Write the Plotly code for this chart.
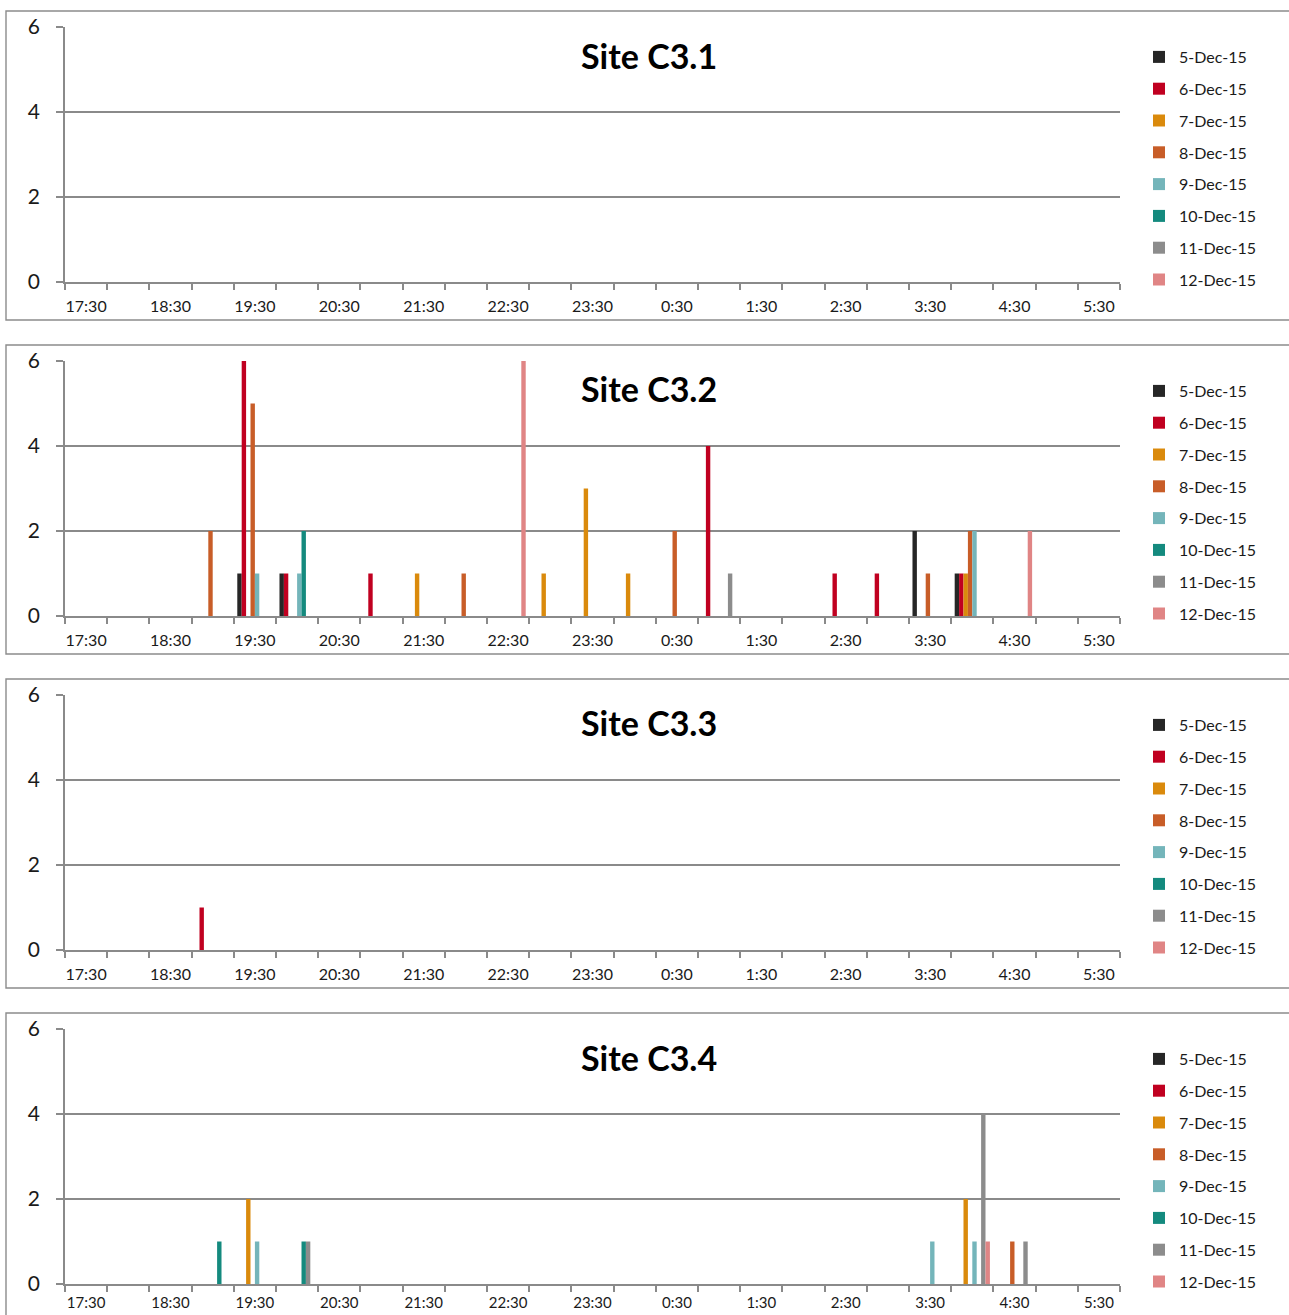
import plotly.graph_objects as go

W, H = 1289, 1315

TIMES = ["17:30", "18:00", "18:30", "19:00", "19:30", "20:00", "20:30", "21:00",
         "21:30", "22:00", "22:30", "23:00", "23:30", "0:00", "0:30", "1:00",
         "1:30", "2:00", "2:30", "3:00", "3:30", "4:00", "4:30", "5:00", "5:30"]
TICK_LABELS = TIMES[::2]

SERIES = ["5-Dec-15", "6-Dec-15", "7-Dec-15", "8-Dec-15",
          "9-Dec-15", "10-Dec-15", "11-Dec-15", "12-Dec-15"]
COLORS = ["#262626", "#C00020", "#DA8A0C", "#C85D28",
          "#74B5BA", "#148A7E", "#8C8C8C", "#E08585"]

SITES = ["Site C3.1", "Site C3.2", "Site C3.3", "Site C3.4"]

Z = [0] * 25

SITE_C3_1 = [Z, Z, Z, Z, Z, Z, Z, Z]

SITE_C3_2 = [
    [0, 0, 0, 0, 1, 1, 0, 0, 0, 0, 0, 0, 0, 0, 0, 0, 0, 0, 0, 0, 2, 1, 0, 0, 0],
    [0, 0, 0, 0, 6, 1, 0, 1, 0, 0, 0, 0, 0, 0, 0, 4, 0, 0, 1, 1, 0, 1, 0, 0, 0],
    [0, 0, 0, 0, 0, 0, 0, 0, 1, 0, 0, 1, 3, 1, 0, 0, 0, 0, 0, 0, 0, 1, 0, 0, 0],
    [0, 0, 0, 2, 5, 0, 0, 0, 0, 1, 0, 0, 0, 0, 2, 0, 0, 0, 0, 0, 1, 2, 0, 0, 0],
    [0, 0, 0, 0, 1, 1, 0, 0, 0, 0, 0, 0, 0, 0, 0, 0, 0, 0, 0, 0, 0, 2, 0, 0, 0],
    [0, 0, 0, 0, 0, 2, 0, 0, 0, 0, 0, 0, 0, 0, 0, 0, 0, 0, 0, 0, 0, 0, 0, 0, 0],
    [0, 0, 0, 0, 0, 0, 0, 0, 0, 0, 0, 0, 0, 0, 0, 1, 0, 0, 0, 0, 0, 0, 0, 0, 0],
    [0, 0, 0, 0, 0, 0, 0, 0, 0, 0, 6, 0, 0, 0, 0, 0, 0, 0, 0, 0, 0, 0, 2, 0, 0],
]

SITE_C3_3 = [
    Z,
    [0, 0, 0, 1, 0, 0, 0, 0, 0, 0, 0, 0, 0, 0, 0, 0, 0, 0, 0, 0, 0, 0, 0, 0, 0],
    Z, Z, Z, Z, Z, Z,
]

SITE_C3_4 = [
    Z,
    Z,
    [0, 0, 0, 0, 2, 0, 0, 0, 0, 0, 0, 0, 0, 0, 0, 0, 0, 0, 0, 0, 0, 2, 0, 0, 0],
    [0, 0, 0, 0, 0, 0, 0, 0, 0, 0, 0, 0, 0, 0, 0, 0, 0, 0, 0, 0, 0, 0, 1, 0, 0],
    [0, 0, 0, 0, 1, 0, 0, 0, 0, 0, 0, 0, 0, 0, 0, 0, 0, 0, 0, 0, 1, 1, 0, 0, 0],
    [0, 0, 0, 1, 0, 1, 0, 0, 0, 0, 0, 0, 0, 0, 0, 0, 0, 0, 0, 0, 0, 0, 0, 0, 0],
    [0, 0, 0, 0, 0, 1, 0, 0, 0, 0, 0, 0, 0, 0, 0, 0, 0, 0, 0, 0, 0, 4, 1, 0, 0],
    [0, 0, 0, 0, 0, 0, 0, 0, 0, 0, 0, 0, 0, 0, 0, 0, 0, 0, 0, 0, 0, 1, 0, 0, 0],
]

SITE_DATA = [SITE_C3_1, SITE_C3_2, SITE_C3_3, SITE_C3_4]

FONT = "Lato, 'Open Sans', sans-serif"
GRID = "#8A8A8A"


def fx(px):
    return px / W


def fy(py):
    return 1 - py / H


fig = go.Figure()
layout = dict(
    width=W, height=H, margin=dict(l=0, r=0, t=0, b=0, autoexpand=False),
    paper_bgcolor="white", plot_bgcolor="white",
    barmode="group", bargap=0.165, bargroupgap=0,
    showlegend=True, font=dict(family=FONT, color="#1a1a1a"),
)
shapes = []
annotations = []
xpos = list(range(len(TIMES)))

for k, (site, data) in enumerate(zip(SITES, SITE_DATA)):
    off = 334 * k
    sfx = "" if k == 0 else str(k + 1)
    leg = "legend" + sfx
    for i, (name, col, vals) in enumerate(zip(SERIES, COLORS, data)):
        fig.add_trace(go.Bar(
            x=xpos, y=vals, name=name, marker=dict(color=col, line=dict(width=0)),
            xaxis="x" + sfx, yaxis="y" + sfx, legend=leg,
            legendgroup=f"g{k}_{i}", offsetgroup=str(i),
        ))
    last = k == len(SITES) - 1
    layout["xaxis" + sfx] = dict(
        domain=[fx(65), fx(1120)], anchor="y" + sfx,
        range=[-0.5, len(TIMES) - 0.5],
        tickmode="array", tickvals=xpos[::2], ticktext=TICK_LABELS,
        ticks="", showgrid=False, zeroline=False,
        showline=True, linecolor=GRID, linewidth=1.6,
        tickfont=dict(size=16 if not last else 15, color="#1a1a1a", family=FONT),
        ticklabelstandoff=9 if not last else 4,
        minor=dict(tickmode="array", tickvals=[x - 0.5 for x in range(len(TIMES) + 1)],
                   ticks="outside", ticklen=6, tickcolor=GRID, tickwidth=1.6, showgrid=False),
        fixedrange=True,
    )
    layout["yaxis" + sfx] = dict(
        domain=[fy(282 + off), fy(27 + off)], anchor="x" + sfx,
        range=[0, 6], tickmode="array", tickvals=[0, 2, 4, 6],
        showgrid=True, gridcolor=GRID, gridwidth=1.6, zeroline=False,
        showline=True, linecolor=GRID, linewidth=1.6,
        ticks="outside", ticklen=7, tickcolor=GRID, tickwidth=1.6,
        tickfont=dict(size=21, color="#1a1a1a", family=FONT),
        ticklabelstandoff=12,
        fixedrange=True,
    )
    layout[leg] = dict(
        x=fx(1139), xanchor="left", y=fy(40 + off), yanchor="top",
        traceorder="grouped", tracegroupgap=8,
        font=dict(size=16, color="#1a1a1a", family=FONT),
        bgcolor="rgba(0,0,0,0)", itemclick=False, itemdoubleclick=False,
    )
    shapes.append(dict(
        type="rect", xref="paper", yref="paper",
        x0=fx(6), x1=fx(1295), y0=fy(320 + off), y1=fy(11 + off),
        line=dict(color="#8C8C8C", width=1.4), fillcolor="rgba(0,0,0,0)", layer="below",
    ))
    annotations.append(dict(
        text=f"<b>{site}</b>", xref="paper", yref="paper",
        x=fx(649), y=fy(55 + off), xanchor="center", yanchor="middle",
        showarrow=False, font=dict(size=34, color="black", family=FONT),
    ))

layout["shapes"] = shapes
layout["annotations"] = annotations
fig.update_layout(**layout)
fig.write_html(
    "out.html",
    config={"displayModeBar": False},
    post_script="document.body.style.margin='0px';document.body.style.overflow='hidden';",
)
